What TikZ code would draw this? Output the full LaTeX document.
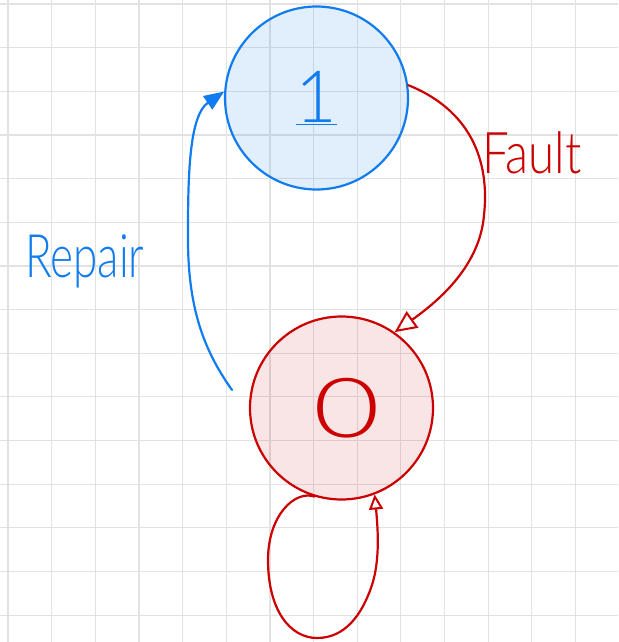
\documentclass[tikz,border=0pt]{standalone}
\usepackage{fontspec}
\setmainfont{Lato}
\newfontfamily\handfont{Lato Light}
\usetikzlibrary{arrows.meta}
\definecolor{inkblue}{RGB}{16,124,240}
\definecolor{inkred}{RGB}{204,0,0}
\definecolor{gridgray}{RGB}{226,226,226}
\tikzset{
  gridline/.style={draw=gridgray, line width=1.2pt},
  state/.style={circle, inner sep=0pt, minimum size=183pt, line width=2.2pt},
  upstate/.style={state, draw=inkblue, fill=inkblue, fill opacity=0.12, text opacity=1, text=inkblue},
  downstate/.style={state, draw=inkred, fill=inkred, fill opacity=0.1, text opacity=1, text=inkred},
  inkline/.style={line width=2.2pt, line cap=round, line join=round},
  faultarrow/.style={inkline, draw=inkred, -{Triangle[open, length=22pt, width=20pt, line width=2pt]}},
  loopline/.style={inkline, draw=inkred, -{Triangle[open, length=15pt, width=14pt, line width=2pt]}},
  repairarrow/.style={inkline, draw=inkblue, -{Triangle[length=20pt, width=16pt]}},
  handlabel/.style={font=\handfont\fontsize{50}{56}\selectfont, inner sep=0pt, anchor=base west},
  digit/.style={font=\handfont\fontsize{72}{80}\selectfont}
}
\begin{document}
\begin{tikzpicture}[x=1pt, y=-1pt]
  % canvas
  \fill[white] (0,0) rectangle (618,642);
  \useasboundingbox (0,0) rectangle (618,642);

  % squared paper
  \foreach \i in {0,...,13}
    \draw[gridline] ({8+43.65*\i},0) -- ({8+43.65*\i},642);
  \foreach \j in {0,...,14}
    \draw[gridline] (0,{4+43.65*\j}) -- (618,{4+43.65*\j});

  % the two states
  \node[upstate, digit] (one) at (316.5,98) {\underline{1}};
  \node[downstate, digit] (zero) at (341.5,408) {\hspace*{10pt}\raisebox{-8pt}{\scalebox{1.6}[1.15]{0}}};

  % transition labels
  \node[handlabel, text=inkred] (fault) at (482,173) {\scalebox{0.95}[1.15]{Fault}};
  \node[handlabel, text=inkblue] (repair) at (25,277) {\scalebox{0.88}[1.2]{Repair}};

  % fault: 1 -> 0
  \draw[faultarrow] (one.8) .. controls (470,110) and (490,160) .. (484,215)
                            .. controls (480,265) and (440,300) .. (zero.55);

  % repair: 0 -> 1
  \coordinate (repairstart) at (232,390);
  \draw[repairarrow] (repairstart) .. controls (200,345) and (187,300) .. (188,230)
                                   .. controls (188,170) and (190,115) .. (one.176);

  % staying in state 0
  \draw[loopline] (zero.253) .. controls (295,490) and (268,515) .. (268,560)
                             .. controls (268,610) and (290,638) .. (317,638)
                             .. controls (345,638) and (362,615) .. (372,585)
                             .. controls (380,560) and (378,530) .. (zero.291);
\end{tikzpicture}
\end{document}
